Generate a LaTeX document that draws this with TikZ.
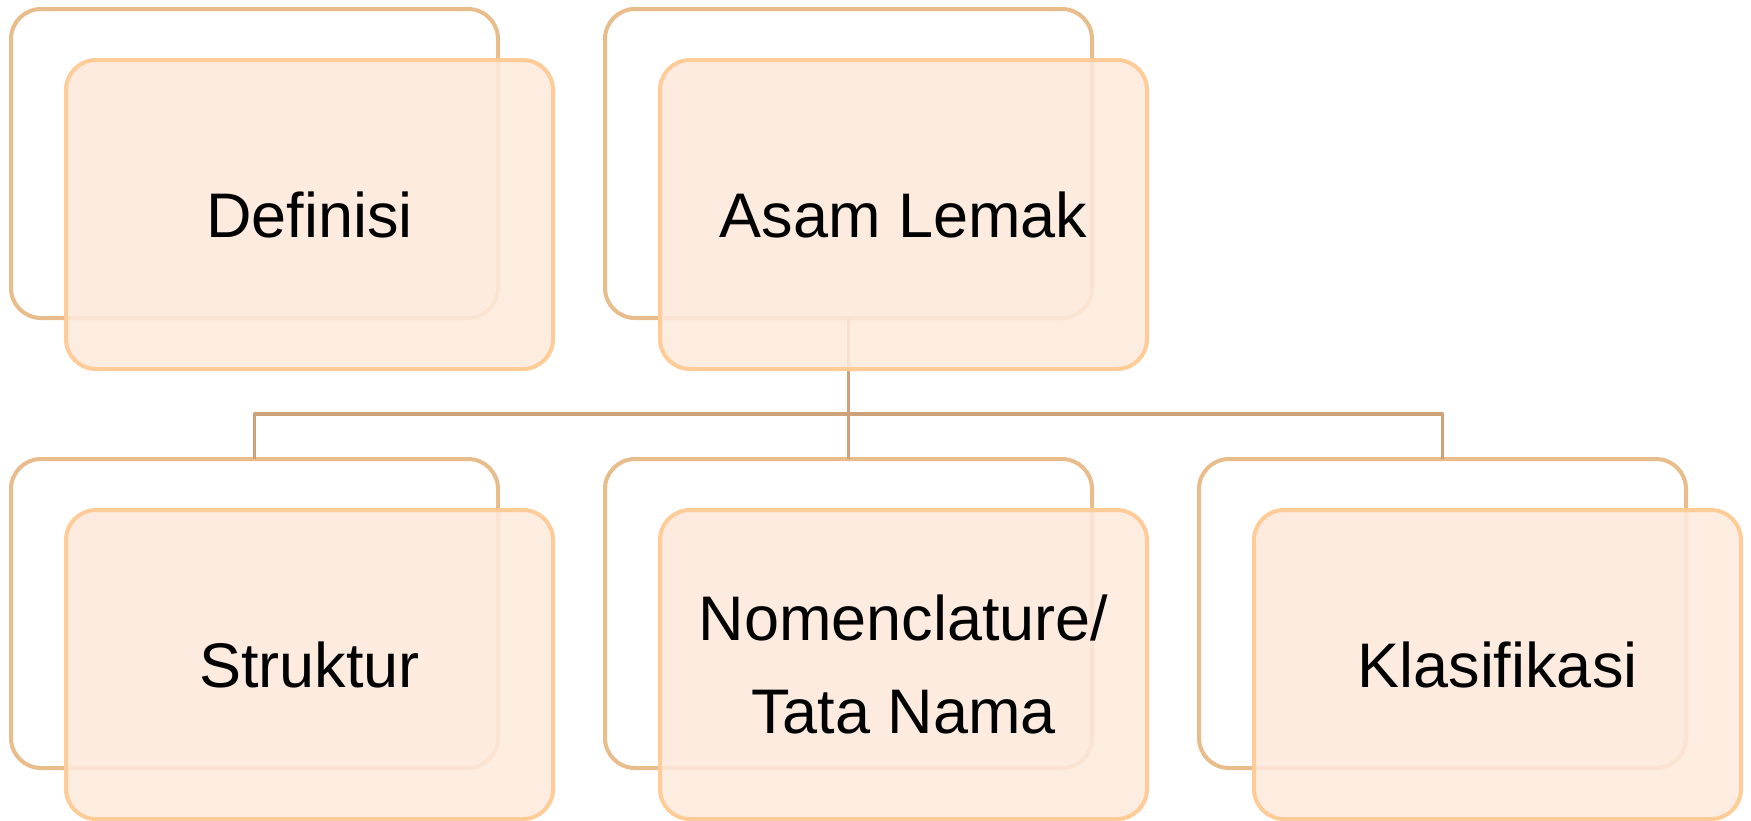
\documentclass[tikz,border=0pt]{standalone}
\usepackage{fontspec}
\setmainfont{Liberation Sans}
\definecolor{backline}{RGB}{233,188,140}
\definecolor{frontline}{RGB}{255,204,152}
\definecolor{frontfill}{RGB}{253,233,220}
\definecolor{busline}{RGB}{205,162,122}
\tikzset{
  card/.style={rounded corners=30pt, line width=4pt, minimum width=487pt,
    minimum height=309pt, anchor=north west, inner sep=0pt, outer sep=0pt},
  backcard/.style={card, draw=backline, fill=white},
  frontcard/.style={card, draw=frontline, fill=frontfill, fill opacity=0.88,
    text opacity=1, align=center, font=\fontsize{63}{93}\selectfont},
  bus/.style={draw=busline, line width=3.5pt, line join=round}
}
\begin{document}
\begin{tikzpicture}[x=1pt,y=-1pt]
\useasboundingbox (0,0) rectangle (1751,820);
% cards behind
\node[backcard] (defB)  at (11,9) {};
\node[backcard] (asamB) at (605,9) {};
\node[backcard] (strB)  at (11,459) {};
\node[backcard] (nomB)  at (605,459) {};
\node[backcard] (klsB)  at (1199,459) {};
% tree connectors
\coordinate (hub) at (asamB.south |- 0,414);
\draw[bus] (asamB.south) -- (hub) -- (nomB.north);
\draw[bus] (strB.north) |- (hub) -| (klsB.north);
% front cards with labels
\node[frontcard] (def)  at (66,60)   {Definisi};
\node[frontcard] (asam) at (660,60)  {Asam Lemak};
\node[frontcard] (str)  at (66,510)  {Struktur};
\node[frontcard] (nom)  at (660,510) {Nomenclature/\\Tata Nama};
\node[frontcard] (kls)  at (1254,510) {Klasifikasi};
\end{tikzpicture}
\end{document}
